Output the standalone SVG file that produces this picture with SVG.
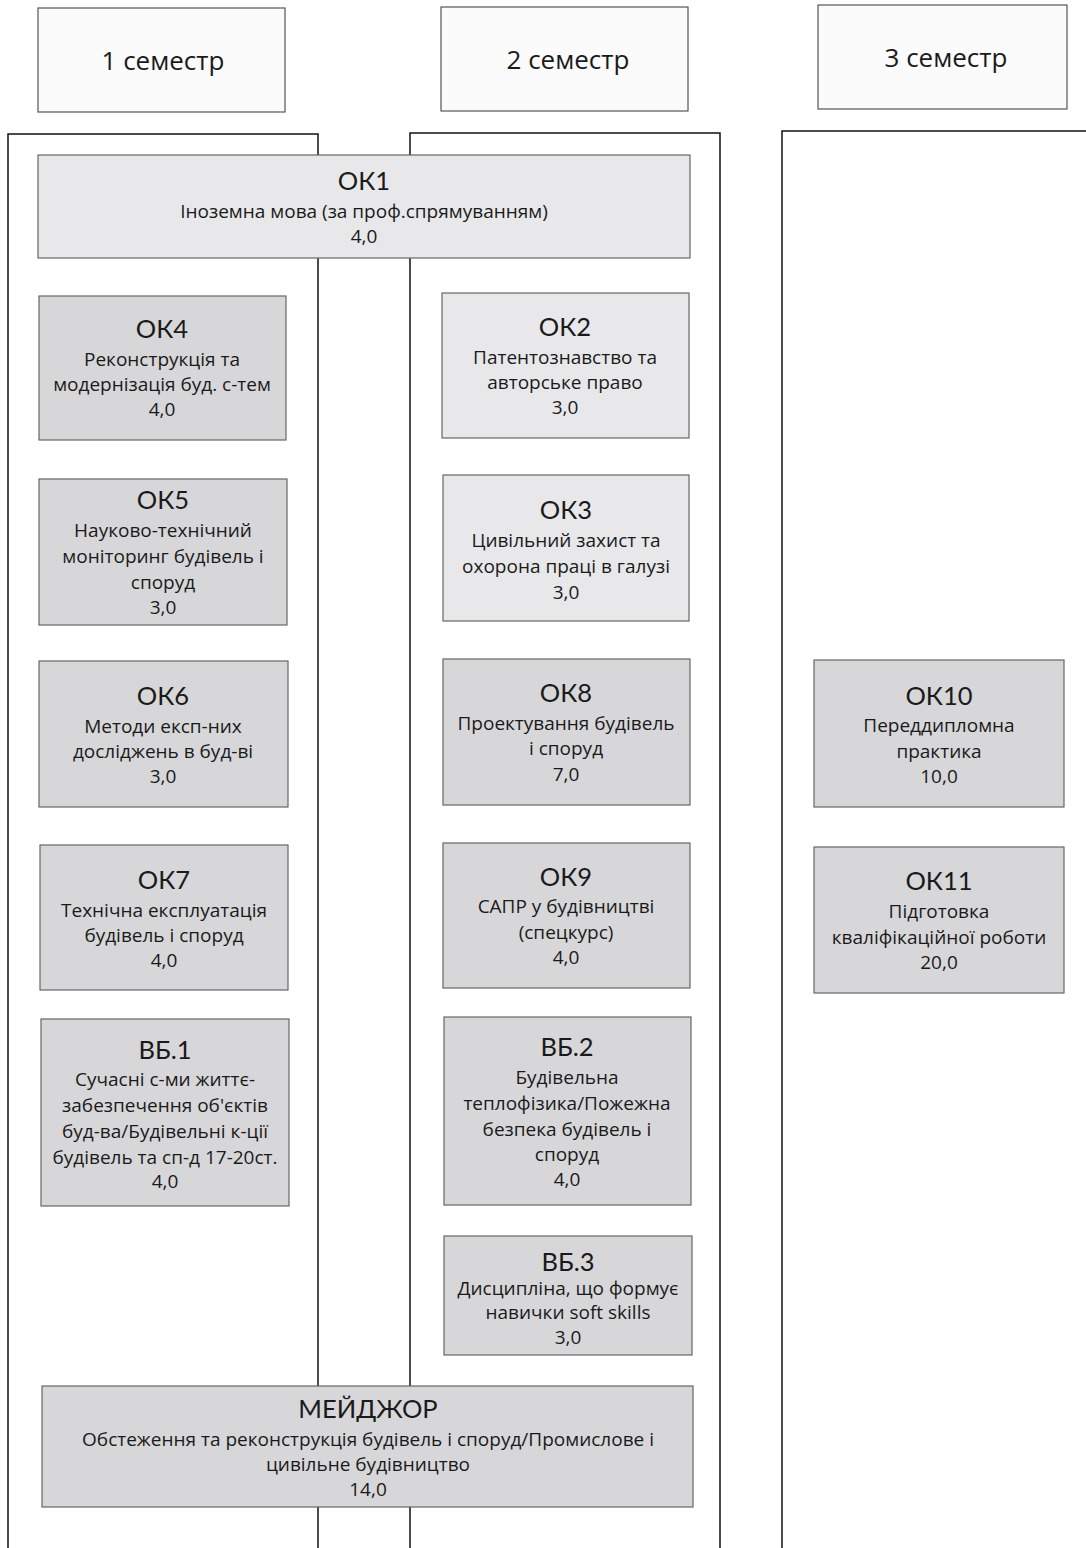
<svg xmlns="http://www.w3.org/2000/svg" width="1086" height="1548" viewBox="0 0 1086 1548">
<style>
text{font-family:"Open Sans","Liberation Sans",sans-serif;fill:#1a1a1a;text-anchor:middle}
.t{font-family:"Lato","Open Sans",sans-serif;font-size:25.5px}
.l{font-size:19px}
.h{font-size:26px}
.hdr{fill:#fbfbfb;stroke:#555;stroke-width:1.2}
.col{fill:none;stroke:#111;stroke-width:1.5}
.dk{fill:#d7d7d9;stroke:#666;stroke-width:1.2}
.lt{fill:#e8e8ea;stroke:#666;stroke-width:1.2}
</style>
<rect width="1086" height="1548" fill="#ffffff"/>
<g id="columns">
<path class="col" d="M8,1550 V134 H318 V1550"/>
<path class="col" d="M410,1550 V133 H720 V1550"/>
<path class="col" d="M782,1550 V131 H1090"/>
</g>
<g id="connectors"></g>
<g id="sem1"><rect class="hdr" x="38" y="8" width="247" height="104"/><text class="h" x="163" y="70">1 семестр</text></g>
<g id="sem2"><rect class="hdr" x="441" y="7" width="247" height="104"/><text class="h" x="568" y="69">2 семестр</text></g>
<g id="sem3"><rect class="hdr" x="818" y="5" width="249" height="104"/><text class="h" x="946" y="67">3 семестр</text></g>

<g id="ok1"><rect class="lt" x="38" y="155" width="652" height="103"/>
<text class="t" x="364" y="190">ОК1</text>
<text class="l" x="364" y="218">Іноземна мова (за проф.спрямуванням)</text>
<text class="l" x="364" y="243">4,0</text></g>

<g id="ok4"><rect class="dk" x="39" y="296" width="247" height="144"/>
<text class="t" x="162" y="338">ОК4</text>
<text class="l" x="162" y="366">Реконструкція та</text>
<text class="l" x="162" y="391">модернізація буд. с-тем</text>
<text class="l" x="162" y="416">4,0</text></g>

<g id="ok5"><rect class="dk" x="39" y="479" width="248" height="146"/>
<text class="t" x="163" y="509">ОК5</text>
<text class="l" x="163" y="537">Науково-технічний</text>
<text class="l" x="163" y="563">моніторинг будівель і</text>
<text class="l" x="163" y="589">споруд</text>
<text class="l" x="163" y="614">3,0</text></g>

<g id="ok6"><rect class="dk" x="39" y="661" width="249" height="146"/>
<text class="t" x="163" y="705">ОК6</text>
<text class="l" x="163" y="733">Методи експ-них</text>
<text class="l" x="163" y="758">досліджень в буд-ві</text>
<text class="l" x="163" y="783">3,0</text></g>

<g id="ok7"><rect class="dk" x="40" y="845" width="248" height="145"/>
<text class="t" x="164" y="889">ОК7</text>
<text class="l" x="164" y="917">Технічна експлуатація</text>
<text class="l" x="164" y="942">будівель і споруд</text>
<text class="l" x="164" y="967">4,0</text></g>

<g id="vb1"><rect class="dk" x="41" y="1019" width="248" height="187"/>
<text class="t" x="165" y="1059">ВБ.1</text>
<text class="l" x="165" y="1086">Сучасні с-ми життє-</text>
<text class="l" x="165" y="1112">забезпечення об'єктів</text>
<text class="l" x="165" y="1138">буд-ва/Будівельні к-ції</text>
<text class="l" x="165" y="1164">будівель та сп-д 17-20ст.</text>
<text class="l" x="165" y="1188">4,0</text></g>

<g id="ok2"><rect class="lt" x="442" y="293" width="247" height="145"/>
<text class="t" x="565" y="336">ОК2</text>
<text class="l" x="565" y="364">Патентознавство та</text>
<text class="l" x="565" y="389">авторське право</text>
<text class="l" x="565" y="414">3,0</text></g>

<g id="ok3"><rect class="lt" x="443" y="475" width="246" height="146"/>
<text class="t" x="566" y="519">ОК3</text>
<text class="l" x="566" y="547">Цивільний захист та</text>
<text class="l" x="566" y="573">охорона праці в галузі</text>
<text class="l" x="566" y="599">3,0</text></g>

<g id="ok8"><rect class="dk" x="443" y="659" width="247" height="146"/>
<text class="t" x="566" y="702">ОК8</text>
<text class="l" x="566" y="730">Проектування будівель</text>
<text class="l" x="566" y="755">і споруд</text>
<text class="l" x="566" y="781">7,0</text></g>

<g id="ok9"><rect class="dk" x="443" y="843" width="247" height="145"/>
<text class="t" x="566" y="886">ОК9</text>
<text class="l" x="566" y="913">САПР у будівництві</text>
<text class="l" x="566" y="939">(спецкурс)</text>
<text class="l" x="566" y="964">4,0</text></g>

<g id="vb2"><rect class="dk" x="444" y="1017" width="247" height="188"/>
<text class="t" x="567" y="1056">ВБ.2</text>
<text class="l" x="567" y="1084">Будівельна</text>
<text class="l" x="567" y="1110">теплофізика/Пожежна</text>
<text class="l" x="567" y="1136">безпека будівель і</text>
<text class="l" x="567" y="1161">споруд</text>
<text class="l" x="567" y="1186">4,0</text></g>

<g id="vb3"><rect class="dk" x="444" y="1236" width="248" height="119"/>
<text class="t" x="568" y="1271">ВБ.3</text>
<text class="l" x="568" y="1295">Дисципліна, що формує</text>
<text class="l" x="568" y="1319">навички soft skills</text>
<text class="l" x="568" y="1344">3,0</text></g>

<g id="major"><rect class="dk" x="42" y="1386" width="651" height="121"/>
<text class="t" x="368" y="1418">МЕЙДЖОР</text>
<text class="l" x="368" y="1446">Обстеження та реконструкція будівель і споруд/Промислове і</text>
<text class="l" x="368" y="1471">цивільне будівництво</text>
<text class="l" x="368" y="1496">14,0</text></g>

<g id="ok10"><rect class="dk" x="814" y="660" width="250" height="147"/>
<text class="t" x="939" y="705">ОК10</text>
<text class="l" x="939" y="732">Переддипломна</text>
<text class="l" x="939" y="758">практика</text>
<text class="l" x="939" y="783">10,0</text></g>

<g id="ok11"><rect class="dk" x="814" y="847" width="250" height="146"/>
<text class="t" x="939" y="890">ОК11</text>
<text class="l" x="939" y="918">Підготовка</text>
<text class="l" x="939" y="944">кваліфікаційної роботи</text>
<text class="l" x="939" y="969">20,0</text></g>
</svg>
